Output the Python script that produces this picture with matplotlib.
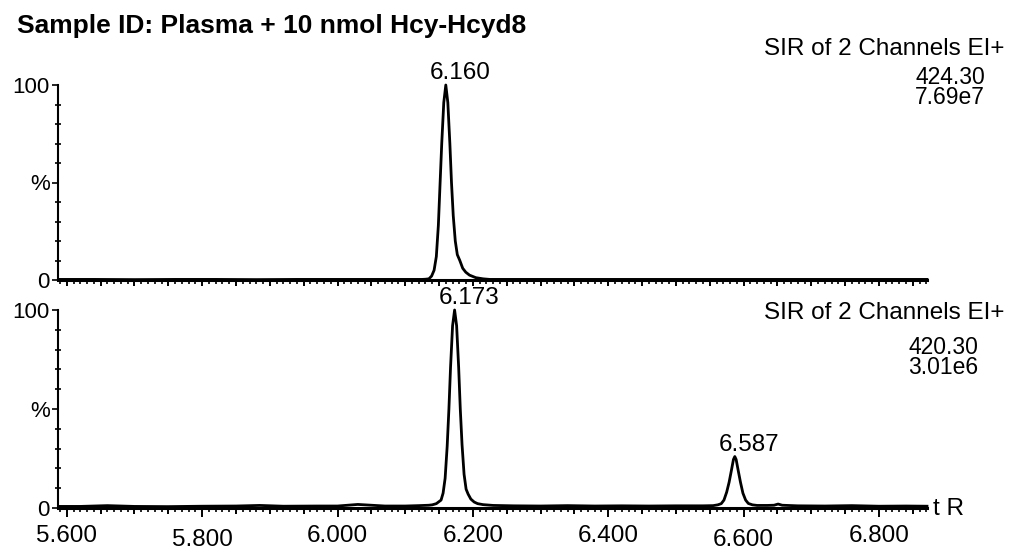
import numpy as np
import matplotlib
matplotlib.use("Agg")
import matplotlib.pyplot as plt
from matplotlib.ticker import MultipleLocator, FixedLocator

plt.rcParams['font.family'] = ['Liberation Sans', 'DejaVu Sans']

# ---------------- data ----------------
title = "Sample ID: Plasma + 10 nmol Hcy-Hcyd8"

top_t = [5.588, 5.64, 5.70, 5.76, 5.82, 5.88, 5.94, 6.00, 6.06, 6.10, 6.125,
         6.130, 6.135, 6.139, 6.1427, 6.146, 6.149, 6.1516, 6.154, 6.157, 6.160,
         6.163, 6.166, 6.1684, 6.171, 6.174, 6.177, 6.1807, 6.185, 6.1895, 6.195,
         6.2043, 6.215, 6.225, 6.26, 6.32, 6.38, 6.44, 6.50, 6.56, 6.62, 6.68,
         6.74, 6.80, 6.871]
top_i = [0.3, 0.3, 0.2, 0.3, 0.3, 0.2, 0.3, 0.3, 0.3, 0.3, 0.3,
         0.4, 0.6, 2, 5, 12, 28, 50, 70, 91, 100,
         91, 70, 50, 33, 20, 13, 10, 6, 4, 2.5,
         1.2, 0.6, 0.3, 0.3, 0.3, 0.3, 0.3, 0.3, 0.3, 0.3, 0.3,
         0.3, 0.3, 0.3]

bot_t = [5.588, 5.62, 5.66, 5.70, 5.75, 5.80, 5.85, 5.885, 5.92, 5.97, 6.00,
         6.03, 6.045, 6.07, 6.10, 6.12, 6.135,
         6.140, 6.146, 6.153, 6.156, 6.159, 6.162, 6.1646, 6.167, 6.170, 6.173,
         6.176, 6.179, 6.1814, 6.184, 6.187, 6.190, 6.193, 6.197, 6.202, 6.207,
         6.215, 6.23, 6.26, 6.30, 6.34, 6.38, 6.42, 6.46, 6.50, 6.54, 6.555,
         6.562, 6.567, 6.571, 6.575, 6.5786, 6.582, 6.585, 6.587, 6.589, 6.592,
         6.5954, 6.599, 6.603, 6.607, 6.613, 6.62, 6.635, 6.645, 6.651, 6.657,
         6.68, 6.72, 6.76, 6.80, 6.84, 6.871]
bot_i = [0.8, 0.8, 1.2, 0.8, 0.7, 0.9, 1.0, 1.3, 0.9, 1.0, 1.0,
         1.8, 1.5, 1.0, 1.0, 1.2, 1.4,
         1.6, 2.2, 4, 7.5, 15, 31, 50, 71, 92, 100,
         92, 71, 50, 32, 17, 9.5, 7, 4.5, 3, 2.2,
         1.7, 1.3, 1.1, 1.0, 1.2, 1.0, 1.1, 1.0, 1.1, 1.1, 1.2,
         1.6, 2.2, 4, 8, 13, 19, 24.5, 26, 24.5, 19,
         13, 7.5, 4, 2.3, 1.6, 1.3, 1.3, 1.4, 2.0, 1.4,
         1.1, 1.0, 1.2, 0.9, 1.0, 0.9]

top_peak_t, top_peak_v, top_peak_lbl = [6.160], [100], ["6.160"]
bot_peak_t = [6.173, 6.587]
bot_peak_v = [100, 26]
bot_peak_lbl = ["6.173", "6.587"]

top_info = ["SIR of 2 Channels EI+", "424.30", "7.69e7"]
bot_info = ["SIR of 2 Channels EI+", "420.30", "3.01e6"]

x_labels_at = [5.6, 5.8, 6.0, 6.2, 6.4, 6.6, 6.8]
y_ticks = [0, 50, 100]
y_tick_labels = ["0", "%", "100"]

# ---------------- figure ----------------
W, H = 1010, 554
DPI = 100
fig = plt.figure(figsize=(W / DPI, H / DPI), dpi=DPI)
PT = 72.0 / DPI  # points per pixel

def fx(px):
    return px / W

def fy(py):
    return 1 - py / H

x0, x1 = 58, 927
ax1 = fig.add_axes([fx(x0), fy(280), (x1 - x0) / W, (280 - 85) / H])
ax2 = fig.add_axes([fx(x0), fy(508), (x1 - x0) / W, (508 - 310) / H])

xmin, xmax = 5.587, 6.871
major_locs = [5.6 + 0.05 * k for k in range(26)]
FS = 17.5

for ax, t, i, labeled in [(ax1, top_t, top_i, False), (ax2, bot_t, bot_i, True)]:
    ax.plot(t, i, color='black', lw=2.0, clip_on=False, solid_joinstyle='round')
    ax.set_xlim(xmin, xmax)
    ax.set_ylim(0, 100)
    for s in ['top', 'right']:
        ax.spines[s].set_visible(False)
    ax.spines['left'].set_linewidth(1.5)
    ax.spines['bottom'].set_linewidth(2.2)
    ax.patch.set_visible(False)

    # x ticks
    ax.xaxis.set_major_locator(FixedLocator(major_locs))
    ax.xaxis.set_minor_locator(MultipleLocator(0.01))
    labels = []
    for v in major_locs:
        if any(abs(v - l) < 1e-6 for l in x_labels_at) and labeled:
            labels.append("%.3f" % v)
        else:
            labels.append("")
    ax.set_xticks(major_locs)
    ax.set_xticklabels(labels, fontsize=FS)
    ax.tick_params(axis='x', which='major', direction='out', length=5.5 * PT,
                   width=1.4, pad=11 * PT, colors='black')
    ax.tick_params(axis='x', which='minor', direction='out', length=3.5 * PT,
                   width=1.2)
    if labeled:
        for tk, v in zip(ax.xaxis.get_major_ticks(), major_locs):
            if any(abs(v - l) < 1e-6 for l in x_labels_at):
                tk.tick1line.set_markersize(9 * PT)

    # y ticks
    ax.set_yticks(y_ticks)
    ax.set_yticklabels(y_tick_labels, fontsize=16)
    ax.yaxis.set_minor_locator(MultipleLocator(10))
    ax.tick_params(axis='y', which='major', direction='out', length=6 * PT,
                   width=1.2, pad=2 * PT)
    ax.tick_params(axis='y', which='minor', direction='inout', length=6 * PT,
                   width=1.2)

# lower the 5.800 and 6.600 labels a little, as in the source
for tk, v in zip(ax2.xaxis.get_major_ticks(), major_locs):
    if abs(v - 5.8) < 1e-6 or abs(v - 6.6) < 1e-6:
        tk.label1.set_y(-5 / 198)

# peak labels
for ax, pts, vals, lbls in [(ax1, top_peak_t, top_peak_v, top_peak_lbl),
                            (ax2, bot_peak_t, bot_peak_v, bot_peak_lbl)]:
    for p, v, l in zip(pts, vals, lbls):
        ax.annotate(l, xy=(p, v), xytext=(-16, 6), textcoords='offset pixels',
                    ha='left', va='baseline', fontsize=FS, annotation_clip=False)

# "t R"
ax2.annotate("t R", xy=(1, 0), xycoords='axes fraction', xytext=(6, -7),
             textcoords='offset pixels', ha='left', va='baseline', fontsize=FS)

# title and info text
fig.text(fx(17), fy(33), title, fontsize=19, fontweight='bold',
         ha='left', va='baseline')

fig.text(fx(1005), fy(55), top_info[0], fontsize=FS, ha='right', va='baseline')
fig.text(fx(985), fy(104), top_info[1] + "\n" + top_info[2], fontsize=16.5,
         ha='right', va='baseline', multialignment='right', linespacing=0.82)

fig.text(fx(1005), fy(319), bot_info[0], fontsize=FS, ha='right', va='baseline')
fig.text(fx(978), fy(374), bot_info[1] + "\n" + bot_info[2], fontsize=16.5,
         ha='right', va='baseline', multialignment='right', linespacing=0.82)

fig.savefig("out.png", dpi=DPI, facecolor='white')
